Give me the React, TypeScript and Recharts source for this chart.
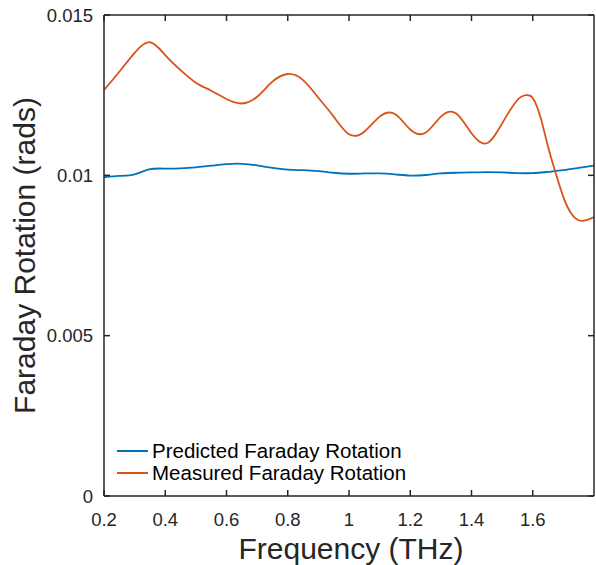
import { LineChart, Line, XAxis, YAxis } from 'recharts'

// frequency (THz) and rotation (rads)
const measuredFreq = [
  0.2, 0.25, 0.3, 0.35, 0.4, 0.45, 0.5, 0.55, 0.6, 0.65, 0.7, 0.75, 0.8, 0.85, 0.9, 0.95, 1.0,
  1.05, 1.1, 1.15, 1.2, 1.25, 1.3, 1.35, 1.4, 1.45, 1.5, 1.55, 1.58, 1.6, 1.625, 1.65, 1.675,
  1.7, 1.725, 1.75, 1.775, 1.8,
]
const measuredRotation = [
  0.01266, 0.01323, 0.01382, 0.01415, 0.01375, 0.01328, 0.01289, 0.01264, 0.01238, 0.01224,
  0.01245, 0.01292, 0.01316, 0.01297, 0.01242, 0.01183, 0.01128, 0.01136, 0.01183, 0.01191,
  0.01143, 0.01133, 0.01183, 0.01193, 0.01131, 0.011, 0.01162, 0.01235, 0.0125, 0.01241,
  0.01182, 0.01089, 0.01007, 0.00932, 0.00882, 0.0086, 0.0086, 0.0087,
]

const predictedFreq = [
  0.2, 0.25, 0.3, 0.35, 0.4, 0.45, 0.5, 0.55, 0.6, 0.65, 0.7, 0.75, 0.8, 0.85, 0.9, 0.95, 1.0,
  1.05, 1.1, 1.15, 1.2, 1.25, 1.3, 1.35, 1.4, 1.45, 1.5, 1.55, 1.6, 1.65, 1.7, 1.75, 1.8,
]
const predictedRotation = [
  0.00994, 0.00998, 0.01003, 0.01019, 0.01021, 0.01022, 0.01025, 0.0103, 0.01035, 0.01036,
  0.01031, 0.01023, 0.01018, 0.01016, 0.01013, 0.01008, 0.01005, 0.01006, 0.01006, 0.01003,
  0.00999, 0.01001, 0.01006, 0.01008, 0.01009, 0.0101, 0.01009, 0.01007, 0.01007, 0.01011,
  0.01016, 0.01023, 0.0103,
]

const xTicks = [0.2, 0.4, 0.6, 0.8, 1, 1.2, 1.4, 1.6]
const yTicks = [0, 0.005, 0.01, 0.015]

const measuredData = measuredFreq.map((f, i) => ({ f, v: measuredRotation[i] }))
const predictedData = predictedFreq.map((f, i) => ({ f, v: predictedRotation[i] }))

const FONT = '"Liberation Sans", Arial, sans-serif'
const AXIS = '#262626'
const BLUE = '#0072BD'
const ORANGE = '#D95319'
const MARK = 6

function XTick({ x, y, payload }: any) {
  return (
    <g>
      <line x1={x} y1={y} x2={x} y2={y - MARK} stroke={AXIS} strokeWidth={1.5} />
      <text x={x} y={y + 29.5} textAnchor="middle" fontFamily={FONT} fontSize={18.5} fill={AXIS}>
        {payload.value}
      </text>
    </g>
  )
}

function YTick({ x, y, payload }: any) {
  return (
    <g>
      <line x1={x} y1={y} x2={x + MARK} y2={y} stroke={AXIS} strokeWidth={1.5} />
      <text x={x - 11} y={y + 6.6} textAnchor="end" fontFamily={FONT} fontSize={18.5} fill={AXIS}>
        {payload.value}
      </text>
    </g>
  )
}

function TopMark({ x, y }: any) {
  return <line x1={x} y1={y} x2={x} y2={y + MARK} stroke={AXIS} strokeWidth={1.5} />
}

function RightMark({ x, y }: any) {
  return <line x1={x} y1={y} x2={x - MARK} y2={y} stroke={AXIS} strokeWidth={1.5} />
}

const legendRows = [
  { name: 'Predicted Faraday Rotation', color: BLUE },
  { name: 'Measured Faraday Rotation', color: ORANGE },
]

// box edges (mirrored axes sit inside the plot area)
const boxAxis = {
  stroke: AXIS,
  strokeWidth: 1.5,
  tickSize: 0,
  tickMargin: 0,
  tickLine: false,
  mirror: true,
  allowDataOverflow: true,
}

export default function App() {
  return (
    <div style={{ position: 'absolute', left: 0, top: 0, width: 596, height: 565, background: '#fff' }}>
      <LineChart width={596} height={565} margin={{ top: 15, right: 2, bottom: 0, left: 0 }}>
        {/* labels */}
        <XAxis
          xAxisId="b"
          type="number"
          dataKey="f"
          domain={[0.2, 1.8]}
          ticks={xTicks}
          allowDataOverflow
          height={69}
          axisLine={false}
          tickLine={false}
          tickSize={0}
          tickMargin={0}
          tick={<XTick />}
          label={{
            content: ({ viewBox }: any) => (
              <text
                x={viewBox.x + viewBox.width / 2 + 2}
                y={559}
                textAnchor="middle"
                fontFamily={FONT}
                fontSize={30}
                fill={AXIS}
              >
                Frequency (THz)
              </text>
            ),
          }}
        />
        <YAxis
          yAxisId="l"
          type="number"
          domain={[0, 0.015]}
          ticks={yTicks}
          allowDataOverflow
          width={104}
          axisLine={false}
          tickLine={false}
          tickSize={0}
          tickMargin={0}
          tick={<YTick />}
          label={{
            content: ({ viewBox }: any) => (
              <text
                transform={`translate(35, ${viewBox.y + viewBox.height / 2}) rotate(-90)`}
                textAnchor="middle"
                fontFamily={FONT}
                fontSize={30}
                fill={AXIS}
              >
                Faraday Rotation (rads)
              </text>
            ),
          }}
        />
        {/* box */}
        <XAxis xAxisId="bm" orientation="bottom" type="number" dataKey="f" domain={[0.2, 1.8]} ticks={xTicks} height={10} tick={false} {...boxAxis} />
        <XAxis xAxisId="tm" orientation="top" type="number" dataKey="f" domain={[0.2, 1.8]} ticks={xTicks} height={10} tick={<TopMark />} {...boxAxis} />
        <YAxis yAxisId="lm" orientation="left" type="number" domain={[0, 0.015]} ticks={yTicks} width={10} tick={false} {...boxAxis} />
        <YAxis yAxisId="rm" orientation="right" type="number" domain={[0, 0.015]} ticks={yTicks} width={10} tick={<RightMark />} {...boxAxis} />
        {/* invisible series bound to the box axes */}
        <Line xAxisId="bm" yAxisId="lm" data={predictedData} dataKey="v" stroke="none" dot={false} isAnimationActive={false} legendType="none" />
        <Line xAxisId="tm" yAxisId="rm" data={predictedData} dataKey="v" stroke="none" dot={false} isAnimationActive={false} legendType="none" />
        <Line
          xAxisId="b"
          yAxisId="l"
          data={predictedData}
          dataKey="v"
          name="Predicted Faraday Rotation"
          type="natural"
          stroke={BLUE}
          strokeWidth={1.8}
          dot={false}
          isAnimationActive={false}
        />
        <Line
          xAxisId="b"
          yAxisId="l"
          data={measuredData}
          dataKey="v"
          name="Measured Faraday Rotation"
          type="natural"
          stroke={ORANGE}
          strokeWidth={1.8}
          dot={false}
          isAnimationActive={false}
        />
      </LineChart>
      <div style={{ position: 'absolute', left: 117, top: 440, fontFamily: FONT, fontSize: 20.5, color: '#000' }}>
        {legendRows.map((r) => (
          <div key={r.name} style={{ display: 'flex', alignItems: 'center', height: 22, whiteSpace: 'nowrap' }}>
            <svg width={35} height={22} style={{ flex: 'none' }}>
              <line x1={0} y1={11} x2={31} y2={11} stroke={r.color} strokeWidth={2} />
            </svg>
            <span style={{ lineHeight: '22px' }}>{r.name}</span>
          </div>
        ))}
      </div>
    </div>
  )
}
